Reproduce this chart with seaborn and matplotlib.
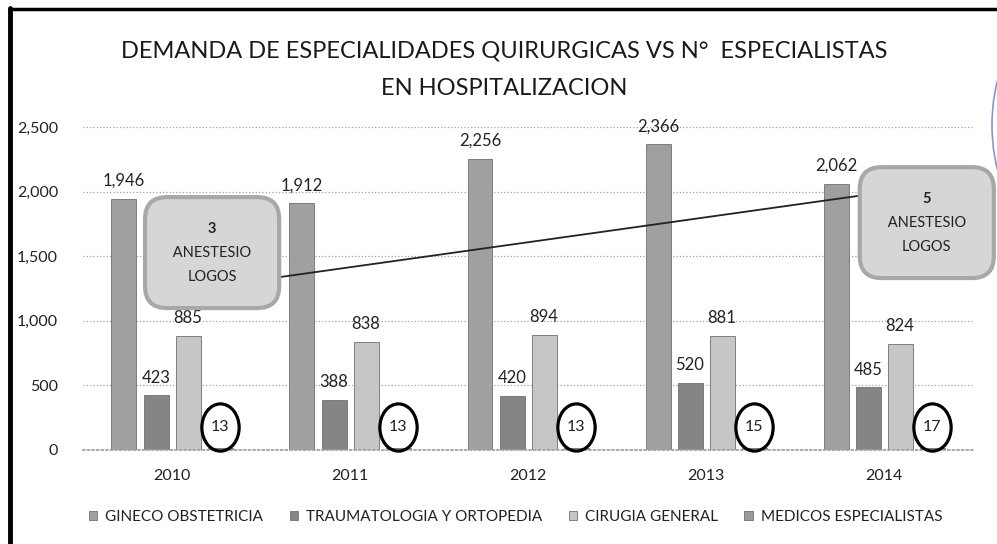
import numpy as np
import pandas as pd
import matplotlib
matplotlib.use("Agg")
import matplotlib.pyplot as plt
import seaborn as sns
from matplotlib.lines import Line2D
from matplotlib.patches import Arc
from matplotlib.path import Path
from matplotlib.transforms import Affine2D, offset_copy
from matplotlib.ticker import FuncFormatter

# --- datos ---
years = ['2010', '2011', '2012', '2013', '2014']
gineco = [1946, 1912, 2256, 2366, 2062]
trauma = [423, 388, 420, 520, 485]
cirugia = [885, 838, 894, 881, 824]
medicos = [13, 13, 13, 15, 17]
series = ['GINECO OBSTETRICIA', 'TRAUMATOLOGIA Y ORTOPEDIA', 'CIRUGIA GENERAL', 'MEDICOS ESPECIALISTAS']
anest_years = ['2010', '2014']
anest = [3, 5]

colors = ['#a0a0a0', '#858585', '#c6c6c6', '#9a9a9a']

df = pd.DataFrame({
    'year': years * 4,
    'value': gineco + trauma + cirugia + medicos,
    'serie': [s for s in series for _ in years],
})

sns.set_theme(style='white')
plt.rcParams['font.family'] = ['Lato', 'DejaVu Sans']
plt.rcParams['mathtext.fontset'] = 'custom'
plt.rcParams['mathtext.rm'] = 'Lato'
plt.rcParams['mathtext.bf'] = 'Lato:bold'

fig = plt.figure(figsize=(9.97, 5.44), dpi=100)
ax = fig.add_axes([0.0833, 0.1728, 0.8927, 0.5937])

sns.barplot(data=df, x='year', y='value', hue='serie', hue_order=series,
            palette=colors, width=0.72, gap=0.22, ax=ax, saturation=1,
            edgecolor='#707070', linewidth=0.6, zorder=2)

ax.set_xlim(-0.5, 4.5)
ax.set_ylim(0, 2500)
ax.set_yticks(range(0, 2501, 500))
ax.yaxis.set_major_formatter(FuncFormatter(lambda v, p: f'{int(v):,}'))
ax.grid(axis='y', linestyle=':', color='#a0a0a0', linewidth=0.9, zorder=0)
ax.set_axisbelow(True)
for s in ['top', 'right', 'left']:
    ax.spines[s].set_visible(False)
ax.spines['bottom'].set_color('#a0a0a0')
ax.spines['bottom'].set_linestyle(':')
ax.tick_params(axis='y', length=0, pad=18, labelsize=11.5, labelcolor='#222222')
ax.tick_params(axis='x', length=0, pad=14, labelsize=11.5, labelcolor='#222222')
ax.set_xlabel('')
ax.set_ylabel('')

# etiquetas de valores (los medicos van dentro de una elipse)
ellipse = Path.unit_circle().transformed(Affine2D().scale(0.79, 1.0))
ring_tr = offset_copy(ax.transData, fig=fig, x=0, y=15, units='points')
for i, cont in enumerate(ax.containers):
    if i < 3:
        ax.bar_label(cont, labels=[f'{int(b.get_height()):,}' for b in cont],
                     padding=7, fontsize=12, color='#222222')
    else:
        for b in cont:
            cx = b.get_x() + b.get_width() / 2
            ax.plot(cx, b.get_height(), marker=ellipse, ms=34, mfc='none', mec='black',
                    mew=2.3, transform=ring_tr, zorder=6, clip_on=False)
            ax.annotate(f'{int(b.get_height())}', xy=(cx, b.get_height()),
                        xytext=(0, 15), textcoords='offset points', ha='center', va='center',
                        fontsize=11.5, color='#222222', zorder=6)

# anestesiologos
ax.annotate('', xy=(0.51, 1320), xytext=(4.0, 1995),
            arrowprops=dict(arrowstyle='-', color='#222222', lw=1.3, shrinkA=0, shrinkB=0), zorder=4)
box_pos = [(0.225, 1528), (4.24, 1760)]
for (bx, by), n in zip(box_pos, anest):
    ax.text(bx, by, f'$\\mathbf{{{n}}}$\n\u00a0ANESTESIO\u00a0\nLOGOS', ha='center', va='center',
            fontsize=10.5, linespacing=1.9, color='#222222', zorder=5,
            bbox=dict(boxstyle='round,pad=1.65,rounding_size=1.5', fc='#d6d6d6', ec='#a8a8a8', lw=3))

# leyenda
handles, labels = ax.get_legend_handles_labels()
ax.get_legend().remove()
fig.legend(handles, labels, loc='center', bbox_to_anchor=(0.517, 0.05), ncol=4, frameon=False,
           fontsize=11, handlelength=0.55, handleheight=0.55, handletextpad=0.5, columnspacing=1.75,
           labelcolor='#222222')

fig.text(0.506, 0.872, 'DEMANDA DE ESPECIALIDADES QUIRURGICAS VS N°  ESPECIALISTAS\nEN HOSPITALIZACION',
         ha='center', va='center', fontsize=17, linespacing=1.95, color='#1a1a1a')

# marco escaneado y sello
fig.add_artist(Line2D([0.010, 0.010], [0, 0.985], transform=fig.transFigure, color='black', lw=3.5))
fig.add_artist(Line2D([0.010, 1.0], [0.983, 0.983], transform=fig.transFigure, color='black', lw=2.5))
fig.add_artist(Arc((1.045, 0.77), 0.1, 0.36, theta1=110, theta2=250, transform=fig.transFigure,
                   color='#5566cc', lw=1.2, alpha=0.7))

fig.savefig('out.png', dpi=100, facecolor='white')
